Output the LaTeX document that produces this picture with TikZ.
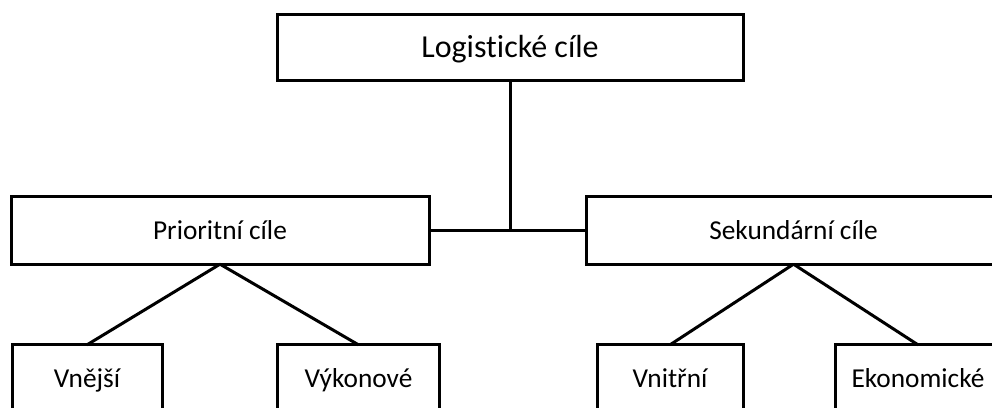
\documentclass[tikz,border=0pt]{standalone}
\usepackage{fontspec}
\setmainfont{Carlito}[Ligatures={NoCommon}]
\begin{document}
\begin{tikzpicture}[x=0.75pt, y=-0.75pt,
  goalbox/.style={draw=black, line width=2.25pt, rectangle, inner sep=0pt,
    outer sep=0pt, minimum height=50.5pt, font=\fontsize{20.5}{24}\selectfont,
    text height=12.9pt, text depth=0pt},
  topbox/.style={goalbox, minimum height=49.5pt, font=\fontsize{24}{28}\selectfont,
    text height=15.2pt},
  link/.style={draw=black, line width=2.25pt}]
  \useasboundingbox (0,0) rectangle (992,407);

  % root
  \node[topbox, minimum width=349.5pt] (root) at (510,47.5) {Logistické cíle};

  % second level
  \node[goalbox, minimum width=313.5pt] (prio) at (220,230.5) {Prioritní cíle};
  \node[goalbox, minimum width=311pt] (sek) at (793.5,230.5) {Sekundární cíle};

  % leaves
  \node[goalbox, minimum width=112.5pt] (vnejsi) at (87,378.5) {Vnější};
  \node[goalbox, minimum width=122pt] (vykon) at (358.5,378.5) {Výkonové};
  \node[goalbox, minimum width=109.5pt] (vnitr) at (670,378.5) {Vnitřní};
  \node[goalbox, minimum width=124.5pt] (ekon) at (918,378.5) {Ekonomické};

  % connectors
  \coordinate (join) at (root.south |- prio.east);
  \draw[link] (prio.east) -- (sek.west);
  \draw[link] (root.south) -- (join);
  \draw[link] (prio.south) -- (vnejsi.north);
  \draw[link] (prio.south) -- (vykon.north);
  \draw[link] (sek.south) -- (vnitr.north);
  \draw[link] (sek.south) -- (ekon.north);
\end{tikzpicture}
\end{document}
